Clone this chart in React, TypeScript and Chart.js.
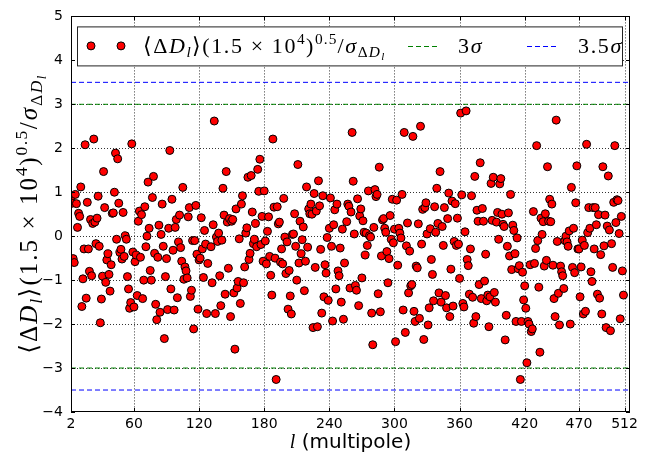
import React, { useEffect, useRef } from "react";
import { Chart, registerables } from "chart.js";
Chart.register(...registerables);

// ---------------- data ----------------
const X_TICKS = [2, 60, 120, 180, 240, 300, 360, 420, 470, 512];
const Y_TICKS = [-4, -3, -2, -1, 0, 1, 2, 3, 4, 5];
const X_MIN = 2;
const X_MAX = 517;
const Y_MIN = -4;
const Y_MAX = 5;
const SIGMA_3 = 3;
const SIGMA_35 = 3.5;

// consecutive multipoles; each block starts at the given l
const blockStarts = [2, 131, 256, 385];

const ratioA = [
  0.84, 0.75, -0.51, -0.6, 0.95, 0.74, 0.2, 0.52, 0.45, 1.12,
  -1.6, -0.97, -0.29, 2.08, -1.41, 0.77, -0.29, -0.8, 0.38, -0.9,
  0.29, 2.21, 0.32, -0.17, 0.41, 0.91, -0.23, -1.97, -1.43, -0.91,
  1.47, 0.65, -1.05, -0.54, -0.4, -0.87, -1.25, -0.65, 0.52, 0.53,
  1.0, 1.89, -0.07, 1.76, 0.75, -0.37, -0.3, -0.52, 0.54, -0.46,
  0.01, -0.07, -0.92, -1.2, -1.64, -1.51, 2.1, -0.36, -1.61, -0.58,
  -0.43, -1.35, 0.34, 0.57, -0.48, 0.49, -1.42, -1.0, 0.67, -0.24,
  0.0, 1.23, 0.18, -0.78, -1.0, 0.88, 1.36, -0.39, -1.55, -1.9,
  -0.48, 0.25, -1.73, 0.04, 0.73, -0.23, -2.33, -0.92, -0.51, -1.67,
  0.18, 1.95, -1.2, 0.84, -0.32, -1.68, 0.2, 0.38, -1.4, -0.13,
  0.48, -0.26, -0.57, 1.11, -0.98, -0.7, -0.79, -0.95, 0.44, 0.65,
  -1.37, -1.23, -0.1, -2.11, -0.1, 0.7, -0.41, -1.66, -0.54, -0.5,
  0.42, -0.29, -0.94, 0.13, -0.18, -1.76, -0.62,
];

const ratioB = [
  -0.24, -1.06, 0.26, 2.62, -1.76, -0.02, -0.12, 0.07, -0.9, -1.58,
  -0.09, 1.09, 0.48, -1.32, 1.47, 0.32, -0.73, 0.4, -1.83, 0.34,
  0.38, -1.29, -2.57, 0.62, -1.18, -1.03, -0.06, -1.53, 0.73, 0.92,
  -1.06, -0.7, 0.07, 0.19, 1.34, -0.53, -0.39, 1.38, 0.55, -0.17,
  -0.07, 0.29, -0.24, 1.52, 1.02, 1.75, -0.19, 0.45, -0.57, 1.03,
  -0.11, -0.63, 0.11, 0.44, -0.46, -0.89, -1.34, 2.21, 0.66, -0.5,
  -3.26, 0.67, 0.28, 0.32, -0.59, -0.29, -0.63, 0.86, -0.02, -0.85,
  -0.13, -1.66, -0.78, -1.36, -1.77, 0.04, 0.05, 0.51, -0.23, -1.0,
  1.63, -0.61, 0.34, -0.4, -0.08, 0.21, -1.24, -0.57, 1.12, -0.25,
  0.62, 0.51, 0.73, 0.5, -2.08, 0.97, -0.71, 0.57, -2.06, 1.26,
  0.69, -0.3, -1.75, 0.92, -1.38, -0.65, -0.84, -0.03, -1.46, 0.18,
  0.87, -0.23, -1.93, 0.26, 0.6, -1.2, 0.73, -0.79, -0.9, -0.27,
  -1.5, 0.16, -1.89, -0.61,
];

const ratioC = [
  0.33, 0.73, 0.68, -1.18, 0.55, 2.36, 1.25, 0.05, -1.12, -1.23,
  0.85, -1.58, 0.46, 0.62, -0.95, 0.35, 0.09, -0.43, 0.07, -0.21,
  1.03, 0.01, -0.02, -1.75, -2.47, 0.2, 1.06, 0.9, 0.95, -1.31,
  1.57, -1.72, -0.45, 0.37, 0.4, 0.18, 0.09, -0.35, -1.06, -0.51,
  0.47, -0.07, 0.84, -0.15, 0.16, -2.4, 0.82, -0.66, 0.18, 0.07,
  -0.04, 0.95, -1.68, 2.36, -2.19, -0.22, 0.3, -1.29, -0.34, -1.13,
  -1.1, 2.27, -1.71, -1.94, -0.68, -0.72, 0.28, -1.87, 2.5, -0.18,
  0.61, -2.35, 0.65, 0.76, 0.05, -2.02, -1.63, 0.17, -0.53, -0.87,
  -1.47, 0.67, 0.09, 1.09, 0.29, -1.29, 1.47, -1.5, 0.22, -0.21,
  0.65, -1.35, -1.63, 0.4, 0.98, -1.83, -0.75, 0.8, -1.59, -0.12,
  0.74, -0.21, 0.41, -0.18, -0.96, 2.8, 0.94, -1.53, -1.61, 0.1,
  2.85, -0.53, -0.67, -1.32, -0.29, 0.92, -1.39, -1.98, 1.36, -1.83,
  0.59, 0.34, -1.1, 1.67, -1.42, 0.63, 0.34, -1.02, -0.41,
];

const ratioD = [
  -1.47, -1.34, -2.06, -1.38, 1.2, 0.36, 1.34, -1.28, -1.5, 0.32,
  0.54, -0.07, 1.19, 1.31, 0.5, 0.27, 0.22, -2.36, -1.8, -0.23,
  0.53, -0.45, 0.95, -0.76, 0.25, 0.13, -0.4, -1.94, -0.04, -0.74,
  -0.67, -3.26, -1.94, -0.82, -1.45, -1.13, -1.64, -2.88, -1.94, -2.0,
  -0.65, -2.17, -2.11, 0.56, -0.62, -0.28, 2.06, -0.1, -1.16, -2.64,
  0.41, 0.04, 0.33, -0.68, 0.51, -0.55, 1.58, 0.34, 0.84, 0.33,
  0.73, -0.66, -1.42, -1.83, 2.64, -0.12, -1.3, -2.02, -0.68, -0.81,
  -0.9, -1.19, -0.1, 0.0, -0.13, -0.23, 0.12, -2.0, 1.11, -0.71,
  0.18, -0.83, 0.76, 1.6, -0.29, -0.29, -1.38, -0.7, -0.09, -1.77,
  -0.21, -1.71, 2.09, 0.08, 0.65, 0.18, -0.81, -1.03, 0.65, -0.29,
  0.65, 0.26, -1.32, 0.49, -1.41, -0.42, -1.77, 1.58, -0.22, 0.48,
  -2.08, 0.23, 1.37, 0.14, -2.15, -0.17, -0.71, 0.77, 2.06, 0.31,
  0.83, 0.81, 0.06, -1.88, 0.45, -0.79, -1.34,
];

const ratioBlocks = [ratioA, ratioB, ratioC, ratioD];

// ---------------- styling ----------------
const MATH_FONT = "'Liberation Serif', 'DejaVu Serif', serif";
const BRACKET_FONT = "'DejaVu Sans', sans-serif";
const SANS = "'DejaVu Sans', sans-serif";
const GREEN = "rgb(0,128,0)";
const BLUE = "rgb(0,0,255)";

type Run = { t: string; it?: boolean; lvl?: number; br?: boolean };
const LEVELS: Record<number, { s: number; dy: number }> = {
  0: { s: 1, dy: 0 },
  1: { s: 0.7, dy: -0.42 },
  [-1]: { s: 0.7, dy: 0.2 },
  [-2]: { s: 0.5, dy: 0.34 },
};

const LABEL_RUNS: Run[] = [
  { t: "\u27E8", br: true },
  { t: "\u0394" },
  { t: "D", it: true },
  { t: "l", it: true, lvl: -1 },
  { t: "\u27E9", br: true },
  { t: "(1.5" },
  { t: " \u00D7 " },
  { t: "10" },
  { t: "4", lvl: 1 },
  { t: ")" },
  { t: "0.5", lvl: 1 },
  { t: "/" },
  { t: "\u03C3", it: true },
  { t: "\u0394", lvl: -1 },
  { t: "D", it: true, lvl: -1 },
  { t: "l", it: true, lvl: -2 },
];
const THREE_SIGMA: Run[] = [{ t: "3" }, { t: "\u03C3", it: true }];
const THREE5_SIGMA: Run[] = [{ t: "3.5" }, { t: "\u03C3", it: true }];

function runFont(r: Run, size: number) {
  const lv = LEVELS[r.lvl || 0];
  const fam = r.br ? BRACKET_FONT : MATH_FONT;
  return `${r.it ? "italic " : ""}${(size * lv.s).toFixed(2)}px ${fam}`;
}
function measureRuns(ctx: CanvasRenderingContext2D, runs: Run[], size: number, gap: number) {
  let w = 0;
  for (const r of runs) {
    const lv = LEVELS[r.lvl || 0];
    ctx.font = runFont(r, size);
    for (const ch of Array.from(r.t)) w += ctx.measureText(ch).width + gap * lv.s;
  }
  return w;
}
function gapWeight(runs: Run[]) {
  let n = 0;
  for (const r of runs) n += Array.from(r.t).length * LEVELS[r.lvl || 0].s;
  return n;
}
function drawRuns(ctx: CanvasRenderingContext2D, runs: Run[], x: number, y: number, size: number, gap: number) {
  ctx.textAlign = "left";
  ctx.textBaseline = "alphabetic";
  let cx = x;
  for (const r of runs) {
    const lv = LEVELS[r.lvl || 0];
    ctx.font = runFont(r, size);
    for (const ch of Array.from(r.t)) {
      ctx.fillText(ch, cx, y + lv.dy * size);
      cx += ctx.measureText(ch).width + gap * lv.s;
    }
  }
}
function fitGap(ctx: CanvasRenderingContext2D, runs: Run[], size: number, target: number) {
  const base = measureRuns(ctx, runs, size, 0);
  return Math.max(0, (target - base) / gapWeight(runs));
}

const decor = {
  id: "decor",
  beforeDatasetsDraw(chart: any) {
    const { ctx, chartArea: a, scales } = chart;
    const xs = scales.x;
    const ys = scales.y;
    ctx.save();
    ctx.strokeStyle = "rgba(0,0,0,0.8)";
    ctx.lineWidth = 1;
    ctx.setLineDash([1, 2]);
    for (const v of X_TICKS) {
      const px = Math.round(xs.getPixelForValue(v)) + 0.5;
      if (px <= a.left + 1 || px >= a.right - 1) continue;
      ctx.beginPath();
      ctx.moveTo(px, a.top);
      ctx.lineTo(px, a.bottom);
      ctx.stroke();
    }
    for (const v of Y_TICKS) {
      const py = Math.round(ys.getPixelForValue(v)) + 0.5;
      if (py <= a.top + 1 || py >= a.bottom - 1) continue;
      ctx.beginPath();
      ctx.moveTo(a.left, py);
      ctx.lineTo(a.right, py);
      ctx.stroke();
    }
    ctx.restore();
  },
  afterDatasetsDraw(chart: any) {
    const { ctx, chartArea: a, scales } = chart;
    const xs = scales.x;
    const ys = scales.y;
    ctx.save();
    ctx.setLineDash([]);
    ctx.strokeStyle = "#000";
    ctx.lineWidth = 1;
    // frame
    ctx.strokeRect(Math.round(a.left) + 0.5, Math.round(a.top) + 0.5, Math.round(a.right - a.left) - 1, Math.round(a.bottom - a.top) - 1);
    // inward ticks
    const TL = 4;
    ctx.beginPath();
    for (const v of X_TICKS) {
      const px = Math.round(xs.getPixelForValue(v)) + 0.5;
      ctx.moveTo(px, a.bottom);
      ctx.lineTo(px, a.bottom - TL);
      ctx.moveTo(px, a.top);
      ctx.lineTo(px, a.top + TL);
    }
    for (const v of Y_TICKS) {
      const py = Math.round(ys.getPixelForValue(v)) + 0.5;
      ctx.moveTo(a.left, py);
      ctx.lineTo(a.left + TL, py);
      ctx.moveTo(a.right, py);
      ctx.lineTo(a.right - TL, py);
    }
    ctx.stroke();

    // legend
    const bx = a.left + 6;
    const by = a.top + 10;
    const bw = a.right - 8 - bx;
    const bh = 39;
    ctx.fillStyle = "#fff";
    ctx.fillRect(bx, by, bw, bh);
    ctx.strokeStyle = "#222";
    ctx.strokeRect(bx + 0.5, by + 0.5, bw, bh);
    const cy = by + bh / 2;
    const labSize = 22;
    const labGap = fitGap(ctx, LABEL_RUNS, labSize, 242);
    for (const mx of [bx + 14, bx + 44]) {
      ctx.beginPath();
      ctx.arc(mx, cy, 4, 0, Math.PI * 2);
      ctx.fillStyle = "#ff0000";
      ctx.fill();
      ctx.strokeStyle = "#000";
      ctx.stroke();
    }
    ctx.fillStyle = "#000";
    drawRuns(ctx, LABEL_RUNS, bx + 66, cy + 7, labSize, labGap);
    ctx.lineWidth = 1;
    ctx.setLineDash([5, 3]);
    ctx.strokeStyle = GREEN;
    ctx.beginPath();
    ctx.moveTo(bx + 331, Math.round(cy) + 0.5);
    ctx.lineTo(bx + 361, Math.round(cy) + 0.5);
    ctx.stroke();
    ctx.strokeStyle = BLUE;
    ctx.beginPath();
    ctx.moveTo(bx + 450, Math.round(cy) + 0.5);
    ctx.lineTo(bx + 480, Math.round(cy) + 0.5);
    ctx.stroke();
    ctx.setLineDash([]);
    ctx.fillStyle = "#000";
    drawRuns(ctx, THREE_SIGMA, bx + 381, cy + 7, labSize, labGap);
    drawRuns(ctx, THREE5_SIGMA, bx + 501, cy + 7, labSize, labGap);

    // y title
    const ySize = 25;
    const yGap = fitGap(ctx, LABEL_RUNS, ySize, 279);
    const yw = measureRuns(ctx, LABEL_RUNS, ySize, yGap);
    ctx.save();
    ctx.translate(37, (a.top + a.bottom) / 2);
    ctx.rotate(-Math.PI / 2);
    drawRuns(ctx, LABEL_RUNS, -yw / 2, 0, ySize, yGap);
    ctx.restore();

    // x title
    const lFont = `italic 20px ${MATH_FONT}`;
    const rest = " (multipole)";
    ctx.font = lFont;
    const lw = ctx.measureText("l").width;
    ctx.font = `20px ${SANS}`;
    const rw = ctx.measureText(rest).width;
    const x0 = (a.left + a.right) / 2 - (lw + rw) / 2;
    ctx.textAlign = "left";
    ctx.textBaseline = "alphabetic";
    ctx.font = lFont;
    ctx.fillText("l", x0, 448);
    ctx.font = `20px ${SANS}`;
    ctx.fillText(rest, x0 + lw, 448);
    ctx.restore();
  },
};

function hline(v: number, color: string) {
  return {
    type: "line" as const,
    data: [
      { x: X_MIN, y: v },
      { x: X_MAX, y: v },
    ],
    borderColor: color,
    borderWidth: 1,
    borderDash: [5, 3],
    pointRadius: 0,
    fill: false,
    order: 2,
  };
}

export default function App() {
  const ref = useRef<HTMLCanvasElement | null>(null);
  useEffect(() => {
    if (!ref.current) return;
    const points: { x: number; y: number }[] = [];
    ratioBlocks.forEach((block, b) => {
      block.forEach((v, i) => points.push({ x: blockStarts[b] + i, y: v }));
    });
    const chart = new Chart(ref.current, {
      type: "scatter",
      data: {
        datasets: [
          hline(SIGMA_3, GREEN),
          hline(-SIGMA_3, GREEN),
          hline(SIGMA_35, BLUE),
          hline(-SIGMA_35, BLUE),
          {
            type: "scatter",
            data: points,
            backgroundColor: "#ff0000",
            borderColor: "#000",
            borderWidth: 1,
            pointRadius: 4,
            order: 1,
          } as any,
        ],
      },
      options: {
        animation: false,
        responsive: false,
        devicePixelRatio: 1,
        layout: { padding: { top: 4, right: 41, left: 0, bottom: 0 } },
        plugins: { legend: { display: false }, tooltip: { enabled: false } },
        scales: {
          x: {
            type: "linear",
            min: X_MIN,
            max: X_MAX,
            grid: { display: false, drawTicks: false },
            border: { display: false },
            afterBuildTicks: (s: any) => {
              s.ticks = X_TICKS.map((v) => ({ value: v }));
            },
            afterFit: (s: any) => {
              s.height = 46;
            },
            ticks: {
              autoSkip: false,
              maxRotation: 0,
              padding: 4,
              color: "#000",
              font: { family: SANS, size: 14 },
              callback: (v: any) => String(v),
            },
          },
          y: {
            type: "linear",
            min: Y_MIN,
            max: Y_MAX,
            grid: { display: false, drawTicks: false },
            border: { display: false },
            afterBuildTicks: (s: any) => {
              s.ticks = Y_TICKS.map((v) => ({ value: v }));
            },
            afterFit: (s: any) => {
              s.width = 71;
            },
            ticks: {
              padding: 8,
              color: "#000",
              font: { family: SANS, size: 14 },
              callback: (v: any) => (Number(v) < 0 ? "\u2212" + Math.abs(Number(v)) : String(v)),
            },
          },
        },
      },
      plugins: [decor],
    });
    return () => chart.destroy();
  }, []);
  return (
    <div style={{ position: "fixed", left: 0, top: 0, width: 671, height: 458, background: "#fff" }}>
      <canvas ref={ref} width={671} height={458} style={{ width: 671, height: 458 }} />
    </div>
  );
}
